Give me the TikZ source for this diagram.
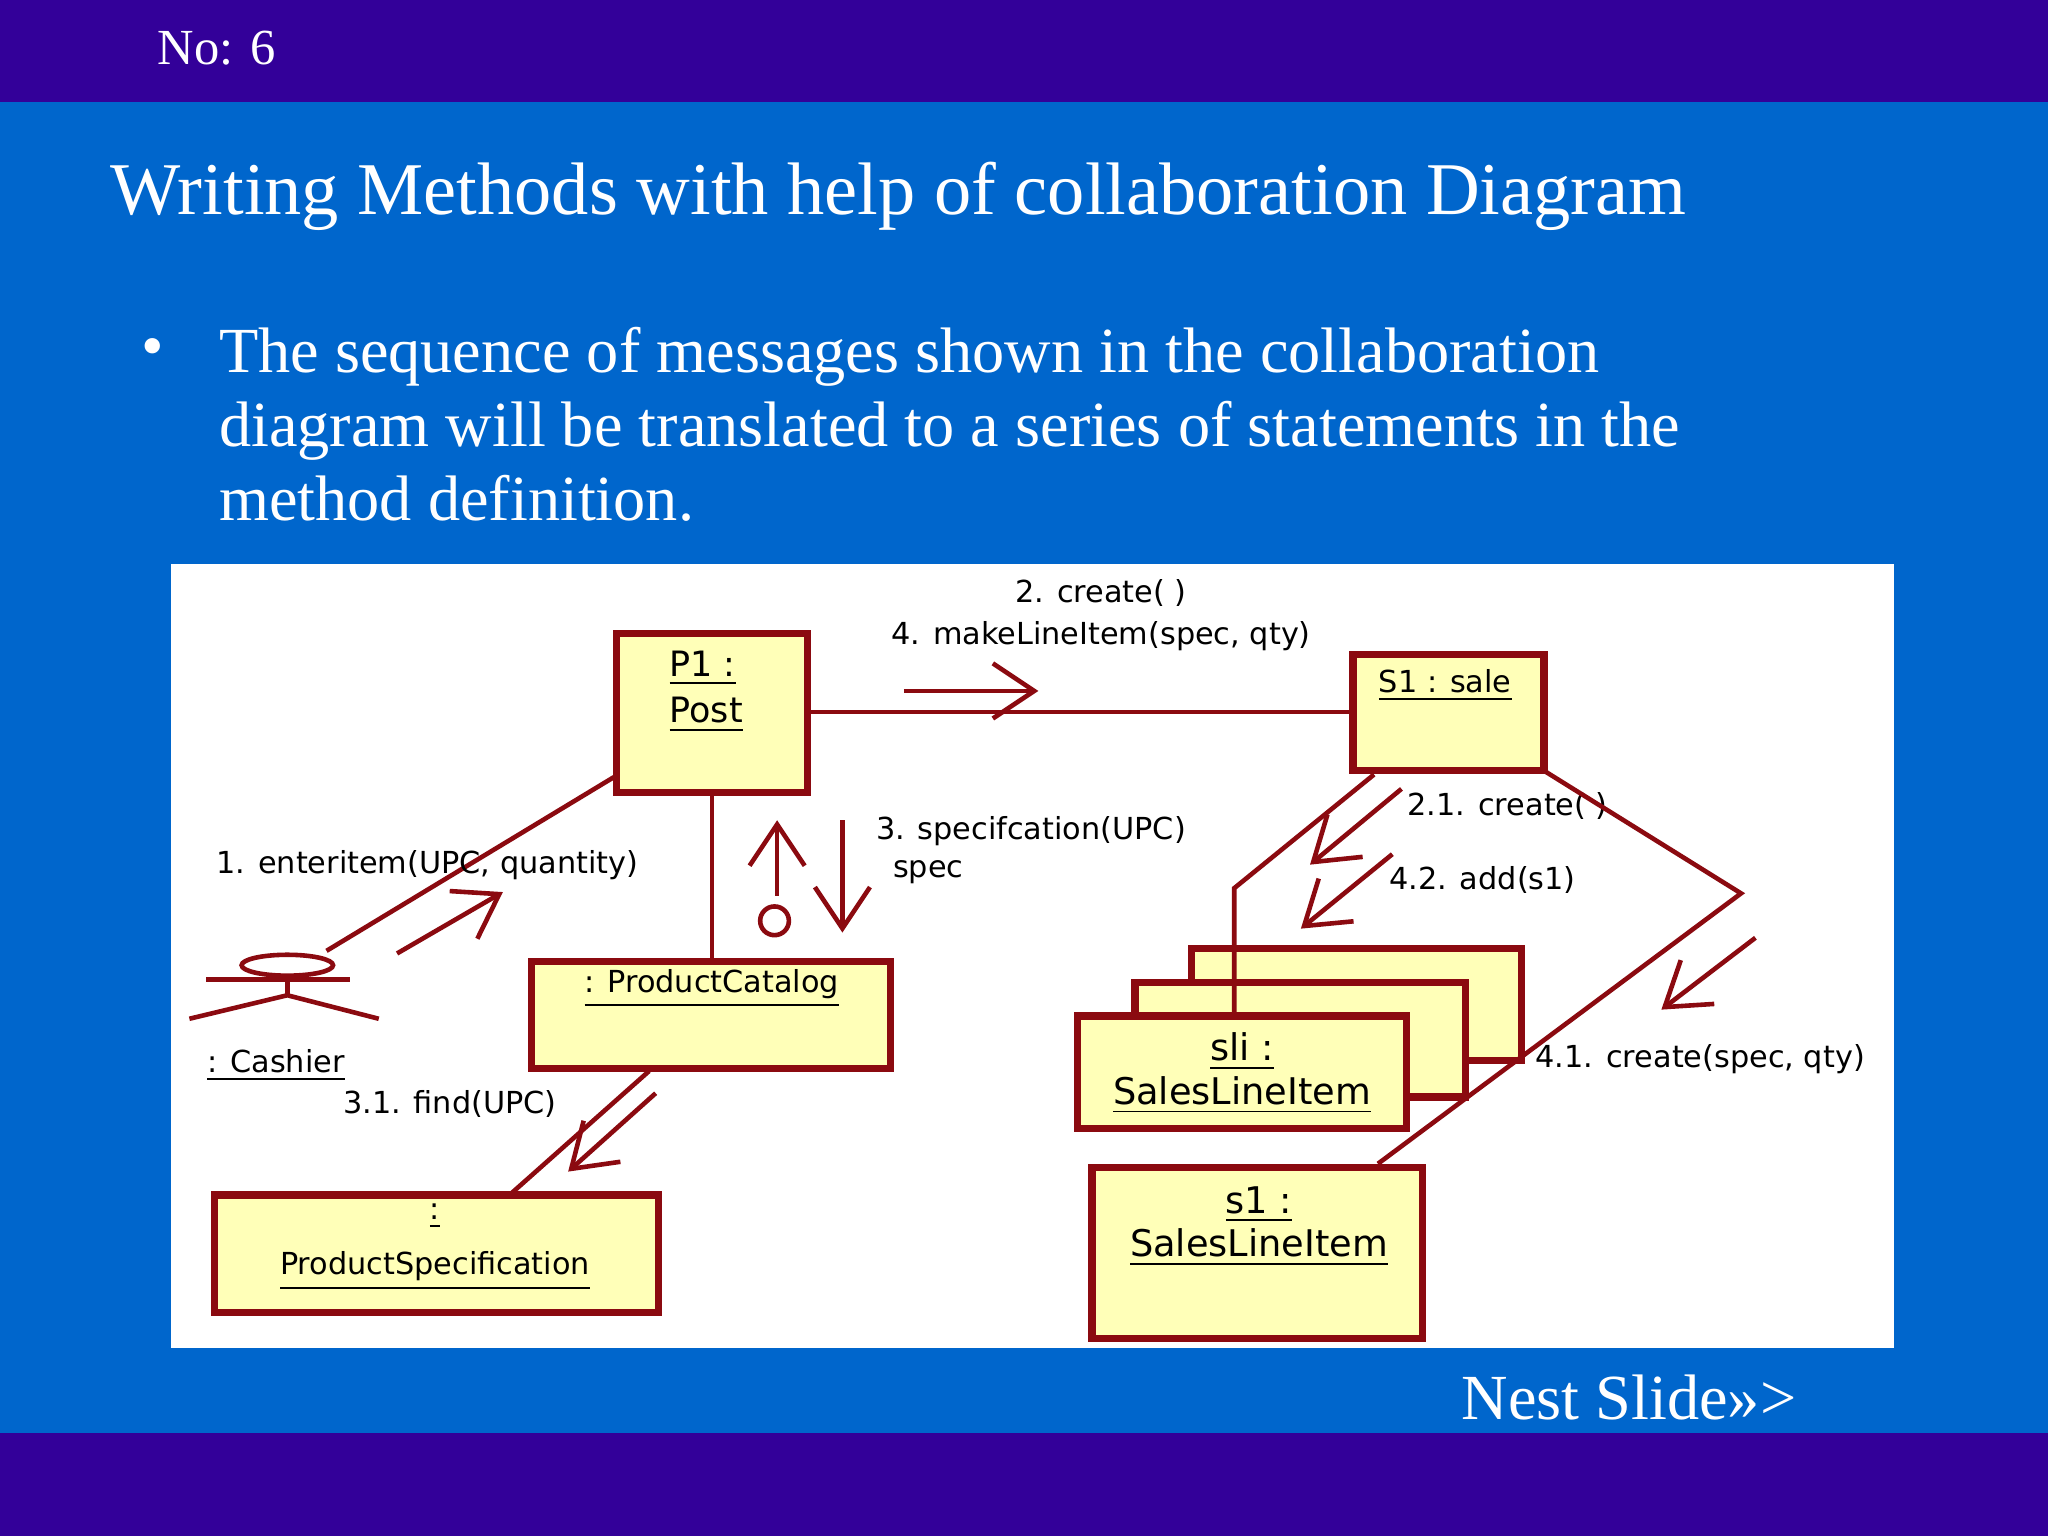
\documentclass[tikz,border=0pt]{standalone}
\usepackage{fontspec}
\setmainfont{Liberation Serif}
\newfontfamily\dsans{DejaVu Sans}
\usetikzlibrary{arrows.meta}
\definecolor{band}{HTML}{330099}
\definecolor{bg}{HTML}{0066CC}
\definecolor{mar}{HTML}{8B0A10}
\definecolor{yel}{HTML}{FFFFB8}
\tikzset{
 obj/.style={draw=mar,fill=yel,line width=1.6pt},
 lnk/.style={draw=mar,line width=1pt},
 msg/.style={draw=mar,line width=1pt,-{Straight Barb[length=9pt,width=12pt]}},
 lab/.style={font=\dsans\fontsize{6.6pt}{8pt}\selectfont,text=black,inner sep=0pt},
 olab/.style={font=\dsans\fontsize{8pt}{9.5pt}\selectfont,text=black,inner sep=0pt,align=left},
}
\begin{document}
\begin{tikzpicture}[x=0.01cm,y=-0.01cm]
\fill[bg] (0,0) rectangle (1568,1176);
\useasboundingbox (0,0) rectangle (1568,1176);
\fill[band] (0,0) rectangle (1568,78);
\fill[band] (0,1097) rectangle (1568,1176);
\node[anchor=west,text=white,font=\fontsize{11pt}{13pt}\selectfont,inner sep=0pt] (no) at (120,37) {No: 6};
\node[anchor=west,text=white,font=\fontsize{16.2pt}{19pt}\selectfont,inner sep=0pt] (title) at (84,150) {Writing Methods with help of collaboration Diagram};
\node[anchor=west,text=white,font=\fontsize{14pt}{16pt}\selectfont,inner sep=0pt] (bul) at (108,270) {•};
\node[anchor=north west,text=white,font=\fontsize{14pt}{16.1pt}\selectfont,inner sep=0pt,align=left] (body) at (167,250) {The sequence of messages shown in the collaboration\\diagram will be translated to a series of statements in the\\method definition.};
\node[anchor=east,text=white,font=\fontsize{14pt}{16pt}\selectfont,inner sep=0pt] (next) at (1376,1070) {Nest Slide>>>};
\fill[white] (131,432) rectangle (1450,1032);
% boxes
\draw[obj] (472,485) rectangle (618,607);
\node[olab,font=\dsans\fontsize{7.6pt}{10pt}\selectfont,anchor=north west] (p1) at (512,498) {\underline{P1 :}\\\underline{Post}};
\draw[obj] (1036,501) rectangle (1182,590);
\node[lab,anchor=west] (s1s) at (1055,525) {\underline{S1 : sale}};
\draw[obj] (407,736) rectangle (682,818);
\node[lab,anchor=center] (pc) at (545,757) {\underline{: ProductCatalog}};
\draw[obj] (164,915) rectangle (504,1005);
\node[lab,align=center] (ps) at (333,955) {\underline{:}\\[4pt]\underline{ProductSpecification}};
\draw[obj] (912,726) rectangle (1165,812);
\draw[obj] (869,752) rectangle (1122,840);
\draw[obj] (825,778) rectangle (1077,864);
\node[olab,align=center] (sli) at (951,822) {\underline{sli :}\\\underline{SalesLineItem}};
\draw[obj] (836,894) rectangle (1089,1025);
\node[olab,align=center] (s1b) at (964,939) {\underline{s1 :}\\\underline{SalesLineItem}};
% links
\draw[lnk] (618,545) -- (1036,545);
\draw[msg] (692,529) -- (795,529);
\node[lab] (m2) at (843,454) {2. create( )};
\node[lab] (m4) at (843,487) {4. makeLineItem(spec, qty)};
\draw[lnk] (545,607) -- (545,736);
\draw[msg] (595,686) -- (595,628);
\draw[mar,line width=1pt] (593,705) circle (11);
\draw[msg] (645,628) -- (645,714);
\node[lab,anchor=west] (m3) at (670,636) {3. specifcation(UPC)};
\node[lab,anchor=west] (sp) at (683,668) {spec};
% cashier
\draw[lnk] (220,739) ellipse (35 and 8);
\draw[lnk] (158,750) -- (268,750);
\draw[lnk] (220,747) -- (220,762);
\draw[lnk] (145,780) -- (220,762) -- (290,780);
\node[lab,anchor=west] (cash) at (158,816) {\underline{: Cashier}};
\draw[lnk] (250,728) -- (470,595);
\draw[msg] (304,730) -- (385,683);
\node[lab,anchor=west] (m1) at (165,662) {1. enteritem(UPC, quantity)};
\draw[lnk] (497,820) -- (390,915);
\draw[msg] (502,837) -- (435,897);
\node[lab,anchor=west] (m31) at (262,845) {3.1. find(UPC)};
% sale to sli
\draw[lnk] (1052,593) -- (945,680) -- (945,778);
\draw[msg] (1073,604) -- (1003,662);
\draw[msg] (1066,654) -- (996,711);
\node[lab,anchor=west] (m21) at (1077,617) {2.1. create( )};
\node[lab,anchor=west] (m42) at (1063,674) {4.2. add(s1)};
\draw[lnk] (1182,590) -- (1333,684) -- (1055,891);
\draw[msg] (1344,718) -- (1272,773);
\node[lab,anchor=west] (m41) at (1175,811) {4.1. create(spec, qty)};
\end{tikzpicture}
\end{document}
